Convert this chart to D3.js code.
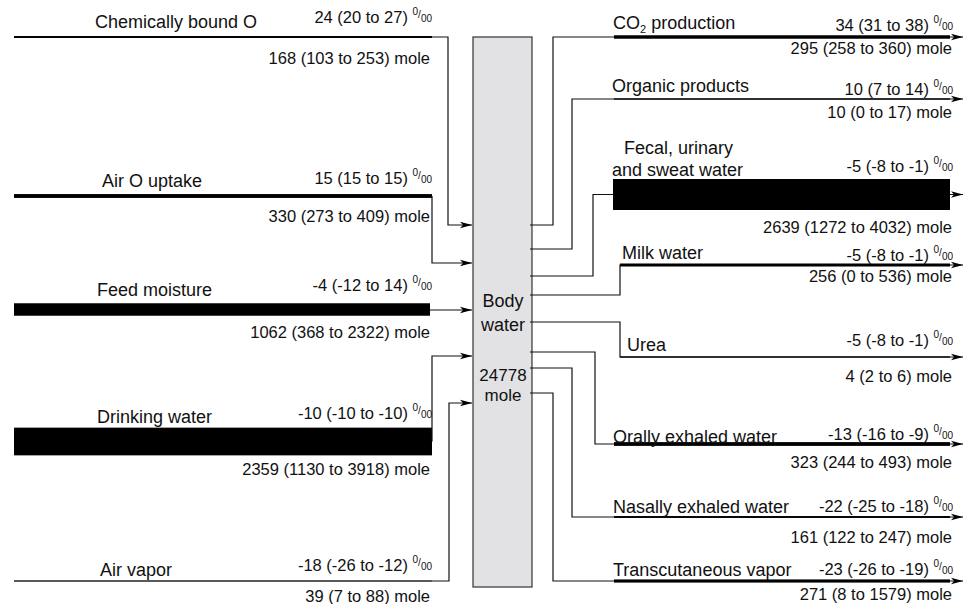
<!DOCTYPE html>
<html>
<head>
<meta charset="utf-8">
<script src="https://cdn.jsdelivr.net/npm/d3@7"></script>
<style>
  html, body { margin: 0; padding: 0; background: #fff; }
  svg { display: block; font-family: "Liberation Sans", Arial, Helvetica, sans-serif; }
</style>
</head>
<body>
<svg id="chart" width="964" height="604"></svg>
<script>
// ---------------- DATA ----------------
const bodyWaterMole = 24778;

const leftNames     = ["Chemically bound O", "Air O uptake", "Feed moisture", "Drinking water", "Air vapor"];
const leftDeltaMean = [24, 15, -4, -10, -18];
const leftDeltaLo   = [20, 15, -12, -10, -26];
const leftDeltaHi   = [27, 15, 14, -10, -12];
const leftMole      = [168, 330, 1062, 2359, 39];
const leftMoleLo    = [103, 273, 368, 1130, 7];
const leftMoleHi    = [253, 409, 2322, 3918, 88];

const rightNames     = [["CO2 production"], ["Organic products"], ["Fecal, urinary", "and sweat water"], ["Milk water"], ["Urea"], ["Orally exhaled water"], ["Nasally exhaled water"], ["Transcutaneous vapor"]];
const rightDeltaMean = [34, 10, -5, -5, -5, -13, -22, -23];
const rightDeltaLo   = [31, 7, -8, -8, -8, -16, -25, -26];
const rightDeltaHi   = [38, 14, -1, -1, -1, -9, -18, -19];
const rightMole      = [295, 10, 2639, 256, 4, 323, 161, 271];
const rightMoleLo    = [258, 0, 1272, 0, 2, 244, 122, 8];
const rightMoleHi    = [360, 17, 4032, 536, 6, 493, 247, 1579];

// ---------------- LAYOUT ----------------
const box = {x0: 473, x1: 532, y0: 37, y1: 587};
const leftLayout = [
  {y: 37,    xEnd: 432, xv: 448, ay: 225, lx: 95,  lb: 28,  vb: 23,  mb: 64},
  {y: 196,   xEnd: 432, xv: 432, ay: 263, lx: 102, lb: 187, vb: 184, mb: 222},
  {y: 309.5, xEnd: 430, xv: null, ay: 310, lx: 97, lb: 296, vb: 291, mb: 338},
  {y: 441.5, xEnd: 432, xv: 432, ay: 356, lx: 97,  lb: 423, vb: 419, mb: 475},
  {y: 581,   xEnd: 432, xv: 449, ay: 403, lx: 100, lb: 576, vb: 571, mb: 602}
];
const rightLayout = [
  {sy: 225, xv: 553, y: 37,    xs: 614, lx: [613],      lb: [29],       vb: 31,  mb: 54},
  {sy: 249, xv: 572, y: 99,    xs: 614, lx: [612],      lb: [92],       vb: 95,  mb: 118},
  {sy: 276, xv: 593, y: 194.5, xs: 613, lx: [624, 612], lb: [154, 176], vb: 172, mb: 233},
  {sy: 295, xv: 620, y: 265,   xs: 620, lx: [622],      lb: [259],      vb: 261, mb: 282},
  {sy: 322, xv: 620, y: 357,   xs: 620, lx: [627],      lb: [351],      vb: 346, mb: 382},
  {sy: 352, xv: 595, y: 444,   xs: 614, lx: [613],      lb: [443],      vb: 440, mb: 468},
  {sy: 368, xv: 572, y: 517,   xs: 614, lx: [613],      lb: [513],      vb: 512, mb: 543},
  {sy: 393, xv: 553, y: 581,   xs: 614, lx: [613],      lb: [576],      vb: 575, mb: 600}
];
const leftX0 = 14;
const rightBarEnd = 950, rightTip = 963;
const valueRightL = 432, moleRightL = 430;
const valueRightR = 953, moleRightR = 952;
const labelSize = 18, numSize = 16.5;

// thickness scale (mole -> px)
const thick = d3.scaleLinear().domain([0, d3.max(rightMole.concat(leftMole))]).range([0, 31]);
const th = v => Math.max(1.3, thick(v));

const svg = d3.select("#chart");

svg.append("defs").append("marker")
  .attr("id", "arrow")
  .attr("markerUnits", "userSpaceOnUse")
  .attr("viewBox", "0 -5 12 10")
  .attr("refX", 12).attr("refY", 0)
  .attr("markerWidth", 12).attr("markerHeight", 10)
  .attr("orient", "auto")
  .append("path")
  .attr("d", "M0,-3.3 L12,0 L0,3.3 L3,0 Z")
  .attr("fill", "#000");

// Body water box
svg.append("rect")
  .attr("x", box.x0).attr("y", box.y0)
  .attr("width", box.x1 - box.x0).attr("height", box.y1 - box.y0)
  .attr("fill", "#e2e2e4").attr("stroke", "#333").attr("stroke-width", 1.2);

const boxCx = (box.x0 + box.x1) / 2;
[["Body", 307, labelSize], ["water", 331, labelSize], [String(bodyWaterMole), 381, 17], ["mole", 401, 17]]
  .forEach(([t, y, s]) => svg.append("text").attr("x", boxCx + 0.5).attr("y", y)
    .attr("text-anchor", "middle").attr("font-size", s).attr("fill", "#111").text(t));

function permil(sel, mean, lo, hi) {
  sel.append("tspan").text(`${mean} (${lo} to ${hi}) `);
  sel.append("tspan").attr("font-size", 10).attr("dy", -8).text("0");
  sel.append("tspan").attr("font-size", 10).attr("dy", 3).text("/");
  sel.append("tspan").attr("font-size", 10).attr("dy", 4).text("00");
}

// ---------------- LEFT FLOWS ----------------
leftNames.forEach((name, i) => {
  const L = leftLayout[i];
  const t = th(leftMole[i]);
  const g = svg.append("g");
  g.append("rect")
    .attr("x", leftX0).attr("y", L.y - t / 2)
    .attr("width", L.xEnd - leftX0).attr("height", t)
    .attr("fill", "#000");
  let d = `M${L.xEnd},${L.y}`;
  if (L.xv !== null) {
    if (L.xv !== L.xEnd) d += ` H${L.xv}`;
    d += ` V${L.ay} H${box.x0 - 1}`;
  } else {
    d = `M${L.xEnd},${L.ay} H${box.x0 - 1}`;
  }
  g.append("path").attr("d", d).attr("fill", "none")
    .attr("stroke", "#111").attr("stroke-width", 1.2)
    .attr("marker-end", "url(#arrow)");

  g.append("text").attr("x", L.lx).attr("y", L.lb)
    .attr("font-size", labelSize).attr("fill", "#111").text(name);
  const vt = g.append("text").attr("x", valueRightL).attr("y", L.vb)
    .attr("text-anchor", "end").attr("font-size", numSize).attr("fill", "#111");
  permil(vt, leftDeltaMean[i], leftDeltaLo[i], leftDeltaHi[i]);
  g.append("text").attr("x", moleRightL).attr("y", L.mb)
    .attr("text-anchor", "end").attr("font-size", numSize).attr("fill", "#111")
    .text(`${leftMole[i]} (${leftMoleLo[i]} to ${leftMoleHi[i]}) mole`);
});

// ---------------- RIGHT FLOWS ----------------
rightNames.forEach((lines, i) => {
  const R = rightLayout[i];
  const t = th(rightMole[i]);
  const g = svg.append("g");
  g.append("path")
    .attr("d", `M${box.x1 - 2},${R.sy} H${R.xv} V${R.y} H${rightTip}`)
    .attr("fill", "none").attr("stroke", "#111").attr("stroke-width", 1.2)
    .attr("marker-end", "url(#arrow)");
  g.append("rect")
    .attr("x", R.xs).attr("y", R.y - t / 2)
    .attr("width", rightBarEnd - R.xs).attr("height", t)
    .attr("fill", "#000");

  lines.forEach((ln, k) => {
    const tx = g.append("text").attr("x", R.lx[k]).attr("y", R.lb[k])
      .attr("font-size", labelSize).attr("fill", "#111");
    if (ln.startsWith("CO2")) {
      tx.append("tspan").text("CO");
      tx.append("tspan").attr("font-size", 11).attr("dy", 4).text("2");
      tx.append("tspan").attr("dy", -4).text(" production");
    } else {
      tx.text(ln);
    }
  });
  const vt = g.append("text").attr("x", valueRightR).attr("y", R.vb)
    .attr("text-anchor", "end").attr("font-size", numSize).attr("fill", "#111");
  permil(vt, rightDeltaMean[i], rightDeltaLo[i], rightDeltaHi[i]);
  g.append("text").attr("x", moleRightR).attr("y", R.mb)
    .attr("text-anchor", "end").attr("font-size", numSize).attr("fill", "#111")
    .text(`${rightMole[i]} (${rightMoleLo[i]} to ${rightMoleHi[i]}) mole`);
});
</script>
</body>
</html>
